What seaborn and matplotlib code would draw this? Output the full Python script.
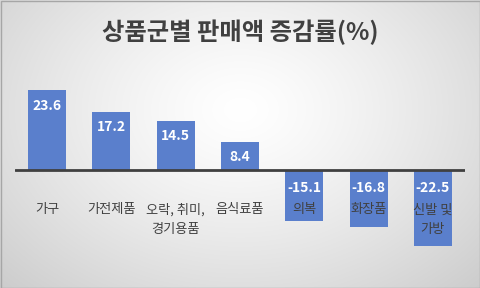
import numpy as np
import pandas as pd
import matplotlib
matplotlib.use("Agg")
import matplotlib.pyplot as plt
import matplotlib.transforms as mtransforms
from matplotlib.patches import Rectangle
import seaborn as sns

# ---- data ----
categories = ["가구", "가전제품", "오락, 취미,\n경기용품", "음식료품", "의복", "화장품", "신발 및\n가방"]
values = [23.6, 17.2, 14.5, 8.4, -15.1, -16.8, -22.5]
title = "상품군별 판매액 증감률(%)"

sns.set_theme(style="white")
plt.rcParams['font.family'] = ['Noto Sans CJK KR', 'DejaVu Sans']

W, H = 480, 288
fig = plt.figure(figsize=(W / 100, H / 100), dpi=100)

# radial gradient background
bg = fig.add_axes([0, 0, 1, 1])
yy, xx = np.mgrid[0:H, 0:W]
r = np.sqrt(((xx - W * 0.5) / (W * 0.5)) ** 2 + ((yy - H * 0.38) / (H * 0.62)) ** 2) / np.sqrt(2)
r = np.clip(r, 0, 1)
g = 1.0 - (1.0 - 0.80) * r ** 1.3
img = np.dstack([g, g, g])
bg.imshow(img, extent=[0, W, H, 0], aspect='auto', interpolation='bilinear')
bg.set_xlim(0, W)
bg.set_ylim(H, 0)
bg.axis('off')
bg.add_patch(Rectangle((0.5, 0.5), W - 1, H - 1, fill=False, edgecolor='#A6A6A6', lw=1))

# main axes: x from 15 to 465 px, y from 80 to 260 px (top-origin)
ax = fig.add_axes([15 / W, 28 / H, 450 / W, 180 / H])
ax.patch.set_alpha(0)
df = pd.DataFrame({"cat": categories, "val": values})
sns.barplot(data=df, x="cat", y="val", color="#5A7FCC", saturation=1, width=0.59, ax=ax,
            edgecolor="none")
ax.set_xlim(-0.5, len(categories) - 0.5)
ax.set_ylim(-26.6, 26.6)
ax.axhline(0, color="#404040", lw=2.0, zorder=5)
for s in ax.spines.values():
    s.set_visible(False)
ax.set_xticks([])
ax.set_yticks([])
ax.set_xlabel("")
ax.set_ylabel("")

px = 72 / 100  # points per pixel

# value labels and category labels
for i, (c, v) in enumerate(zip(categories, values)):
    if v >= 0:
        tr = mtransforms.offset_copy(ax.transData, fig=fig, x=0, y=-15.5 * px, units='points')
        ax.text(i, v, f"{v:.1f}", transform=tr, ha='center', va='center',
                color='white', fontsize=10, fontweight='bold', zorder=6)
    else:
        tr = mtransforms.offset_copy(ax.transData, fig=fig, x=0, y=-18 * px, units='points')
        ax.text(i, 0, f"{v:.1f}", transform=tr, ha='center', va='center',
                color='white', fontsize=10, fontweight='bold', zorder=6)
    for k, line in enumerate(c.split("\n")):
        tr2 = mtransforms.offset_copy(ax.transData, fig=fig, x=0, y=-(40 + 20 * k) * px, units='points')
        ax.text(i, 0, line, transform=tr2, ha='center', va='center', color='#404040',
                fontsize=9.5, zorder=6, clip_on=False)

fig.text(0.5, 1 - 32 / H, title, ha='center', va='center', fontsize=17.5,
         fontweight='bold', color='#404040')

fig.savefig("out.png", dpi=100)
